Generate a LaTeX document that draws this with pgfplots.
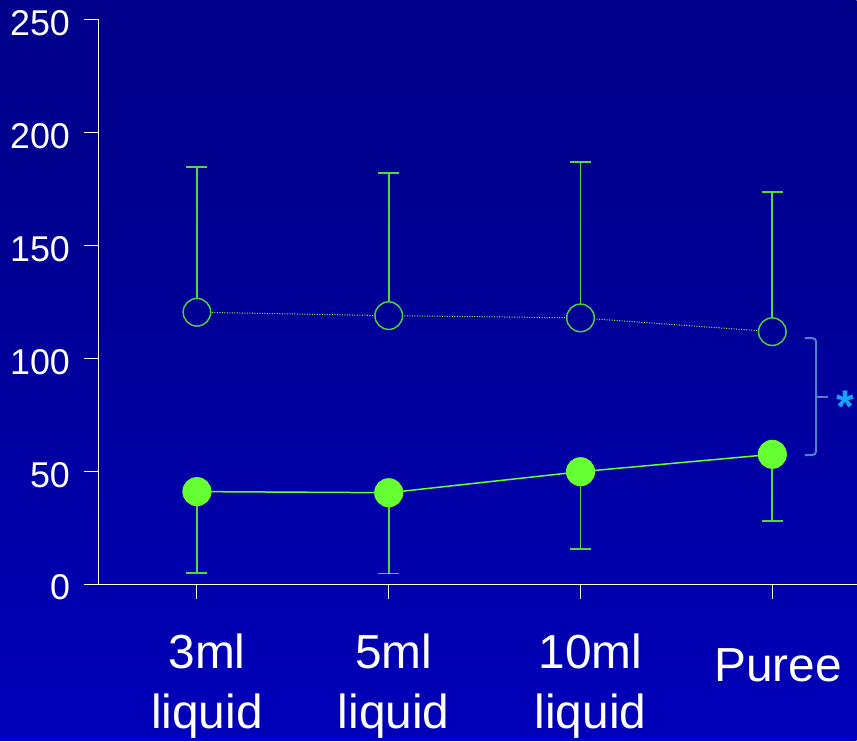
\documentclass[border=0pt]{standalone}
\usepackage{fontspec}
\setmainfont{Liberation Sans}
\usepackage{pgfplots}
\pgfplotsset{compat=1.18}
\usepackage{pgfplotstable}

% colours
\definecolor{bgtop}{RGB}{0,0,128}
\definecolor{bgupper}{RGB}{0,0,145}
\definecolor{bglower}{RGB}{0,0,180}
\definecolor{bgbot}{RGB}{0,0,216}
\definecolor{circlefill}{RGB}{0,0,148}
\definecolor{markgreen}{RGB}{102,255,51}
\definecolor{bargreen}{RGB}{85,215,65}
\definecolor{ringgreen}{RGB}{75,205,70}
\definecolor{bracecol}{RGB}{85,125,205}
\definecolor{starcol}{RGB}{26,160,255}

\pgfdeclareverticalshading{bgshade}{100bp}{color(0bp)=(bgbot); color(30bp)=(bglower); color(60bp)=(bgupper); color(100bp)=(bgtop)}

% means and one-sided errors
\pgfplotstableread{
x y e
0 120.6 64.3
1 119.1 63.1
2 118.1 69.0
3 112.0 61.9
}\opentab
\pgfplotstableread{
x y e
0 41.2 36.0
1 40.7 35.8
2 50.0 34.2
3 57.7 29.4
}\filledtab

\begin{document}
\begin{tikzpicture}[x=1bp,y=1bp]
\shade[shading=bgshade] (0,0) rectangle (857,741);
\begin{axis}[
  at={(99bp,156bp)}, anchor=south west,
  width=758bp, height=565bp, scale only axis,
  xmin=-0.511, xmax=3.439, ymin=0, ymax=250,
  axis x line*=bottom, axis y line*=left,
  axis line style={white, line width=1bp},
  tick style={white, line width=1bp},
  tick align=outside, major tick length=14.5bp,
  xtick={0,1,2,3},
  xticklabels={{3ml\\liquid},
               {\hspace*{-10bp}5ml\\\hspace*{-10bp}liquid},
               {10ml\\liquid},
               {\rule{0pt}{48bp}\hspace*{-8bp}Puree}},
  ytick={0,50,...,250},
  clip=false,
  x tick label style={font=\fontsize{48}{60}\selectfont, text=white, align=center, anchor=north, xshift=10bp, yshift=-31bp},
  y tick label style={font=\fontsize{36}{43}\selectfont, text=white, xshift=-11bp, yshift=-3bp},
  /pgf/number format/assume math mode=true,
]
% upper series: open circles, dotted line, upward error bars
\addplot[markgreen!85!white, line width=1bp, dash pattern=on 1bp off 1.5bp,
  mark=*, mark size=13.8bp,
  mark options={solid, draw=ringgreen, fill=circlefill, line width=1.5bp},
  error bars/.cd, y dir=plus, y explicit,
  error bar style={solid, bargreen, line width=1.8bp},
  error mark options={solid, bargreen, line width=1.8bp, mark size=10.5bp, rotate=90}]
  table[x=x, y=y, y error=e] {\opentab};
% lower series: filled circles, solid line, downward error bars
\addplot[markgreen, line width=1.5bp,
  mark=*, mark size=13.8bp,
  mark options={draw=none, fill=markgreen},
  error bars/.cd, y dir=minus, y explicit,
  error bar style={bargreen, line width=1.8bp},
  error mark options={bargreen, line width=1.8bp, mark size=10.5bp, rotate=90}]
  table[x=x, y=y, y error=e] {\filledtab};
% significance bracket
\draw[bracecol, line width=2bp, rounded corners=4bp]
  (axis cs:3.170,109.2) -- (axis cs:3.229,109.2) -- (axis cs:3.229,57.4) -- (axis cs:3.170,57.4);
\draw[bracecol, line width=2bp] (axis cs:3.229,83.3) -- (axis cs:3.292,83.3);
\node[starcol, anchor=base, inner sep=0pt, font=\fontsize{46}{50}\selectfont\bfseries] at (axis cs:3.382,71.6) {*};
\end{axis}
\end{tikzpicture}
\end{document}
